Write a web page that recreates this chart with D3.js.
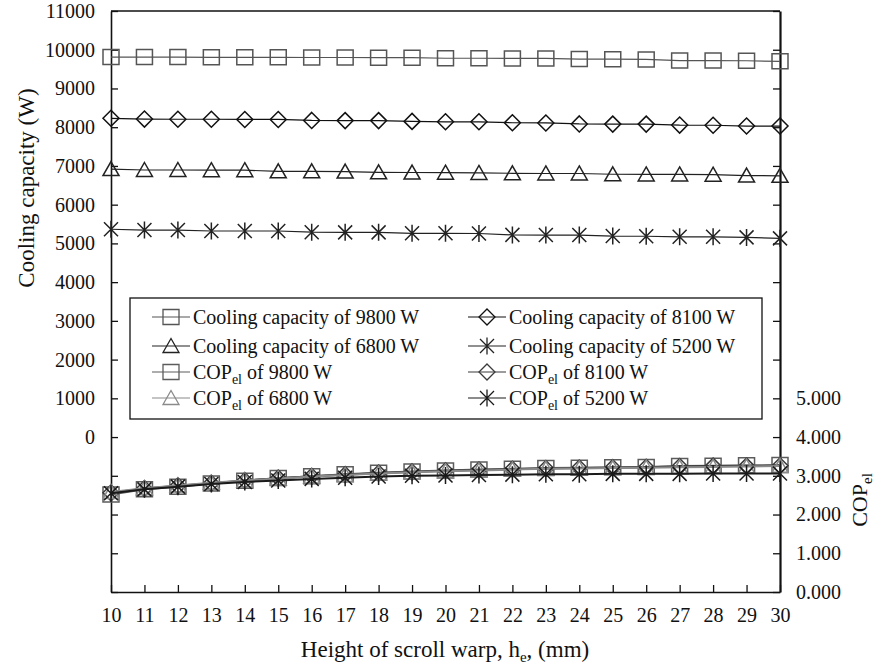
<!DOCTYPE html>
<html>
<head>
<meta charset="utf-8">
<style>
  body { margin: 0; background: #fff; }
  svg text { font-family: "Liberation Serif", "Times New Roman", serif; fill: #111; }
</style>
</head>
<body>
<div id="chart"></div>
<script src="https://cdn.jsdelivr.net/npm/d3@7"></script>
<script>

  /*
   * The Data
   */

  // scroll warp height, mm
  var heights = [10, 11, 12, 13, 14, 15, 16, 17, 18, 19, 20, 21, 22, 23, 24, 25, 26, 27, 28, 29, 30];

  // cooling capacity (W), left axis
  var capacity9800 = [9810, 9810, 9810, 9805, 9805, 9805, 9800, 9800, 9795, 9795, 9780, 9780, 9775, 9775, 9760, 9755, 9750, 9720, 9720, 9715, 9700];
  var capacity8100 = [8230, 8210, 8205, 8205, 8200, 8200, 8175, 8170, 8170, 8150, 8140, 8140, 8115, 8110, 8085, 8080, 8080, 8055, 8050, 8030, 8030];
  var capacity6800 = [6920, 6895, 6895, 6890, 6890, 6860, 6860, 6855, 6835, 6830, 6825, 6820, 6810, 6805, 6805, 6785, 6780, 6780, 6775, 6750, 6745];
  var capacity5200 = [5365, 5345, 5345, 5320, 5320, 5320, 5290, 5285, 5285, 5260, 5260, 5255, 5220, 5215, 5215, 5190, 5185, 5170, 5170, 5155, 5130];

  // COP_el, right axis
  var cop9800 = [2.52, 2.65, 2.72, 2.80, 2.87, 2.94, 2.99, 3.04, 3.08, 3.11, 3.14, 3.16, 3.18, 3.20, 3.21, 3.22, 3.23, 3.25, 3.26, 3.27, 3.28];
  var cop8100 = [2.56, 2.67, 2.74, 2.81, 2.88, 2.94, 2.99, 3.03, 3.07, 3.10, 3.13, 3.15, 3.17, 3.19, 3.20, 3.21, 3.22, 3.24, 3.25, 3.25, 3.26];
  var cop6800 = [2.58, 2.68, 2.75, 2.82, 2.88, 2.93, 2.98, 3.02, 3.06, 3.09, 3.12, 3.14, 3.16, 3.18, 3.19, 3.20, 3.21, 3.22, 3.23, 3.24, 3.25];
  var cop5200 = [2.55, 2.65, 2.72, 2.79, 2.84, 2.88, 2.92, 2.95, 2.98, 3.00, 3.01, 3.02, 3.03, 3.04, 3.04, 3.05, 3.05, 3.05, 3.06, 3.06, 3.06];

  // tick values (only some of them get a label)
  var leftTicks = [-4000, -3000, -2000, -1000, 0, 1000, 2000, 3000, 4000, 5000, 6000, 7000, 8000, 9000, 10000, 11000];
  var leftLabels = [0, 1000, 2000, 3000, 4000, 5000, 6000, 7000, 8000, 9000, 10000, 11000];
  var rightTicks = [0, 1, 2, 3, 4, 5, 6, 7, 8, 9, 10, 11, 12, 13, 14, 15];
  var rightLabels = [0, 1, 2, 3, 4, 5];

  // legend goes row by row: 9800 | 8100, 6800 | 5200
  var series = [
    { name: "Cooling capacity of 9800 W", cop: false, values: capacity9800, marker: "square",   color: "#555", width: 1.2 },
    { name: "Cooling capacity of 8100 W", cop: false, values: capacity8100, marker: "diamond",  color: "#111", width: 1.2 },
    { name: "Cooling capacity of 6800 W", cop: false, values: capacity6800, marker: "triangle", color: "#222", width: 1.2 },
    { name: "Cooling capacity of 5200 W", cop: false, values: capacity5200, marker: "star",     color: "#222", width: 1.2 },
    { name: "9800 W", cop: true, values: cop9800, marker: "square",   color: "#5c5c5c", width: 2 },
    { name: "8100 W", cop: true, values: cop8100, marker: "diamond",  color: "#3a3a3a", width: 2 },
    { name: "6800 W", cop: true, values: cop6800, marker: "triangle", color: "#8a8a8a", width: 2 },
    { name: "5200 W", cop: true, values: cop5200, marker: "star",     color: "#1a1a1a", width: 2 }
  ];

  /*
   * The Setup
   */
  var w = 874, h = 667;
  var plotLeft = 111, plotRight = 780, plotTop = 11, plotBottom = 592;

  var svg = d3.select("#chart").append("svg")
    .attr("width", w)
    .attr("height", h);

  var xScale = d3.scaleLinear().domain([10, 30]).range([plotLeft, plotRight]);
  var yLeft = d3.scaleLinear().domain([-4000, 11000]).range([plotBottom, plotTop]);
  var yRight = d3.scaleLinear().domain([0, 15]).range([plotBottom, plotTop]);

  // marker shapes, centred on 0,0
  function markerPath(type) {
    if (type == "square") return "M-8,-7.5H8V7.5H-8Z";
    if (type == "diamond") return "M0,-8L8,0L0,8L-8,0Z";
    if (type == "triangle") return "M0,-7.5L8,6.5L-8,6.5Z";
    return "M-7,-7L7,7M-7,7L7,-7M0,-8.5V8.5";
  }

  /*
   * Axes
   */
  var xAxis = d3.axisBottom(xScale).tickValues(heights)
    .tickSizeInner(-7).tickSizeOuter(0).tickPadding(16);
  var leftAxis = d3.axisLeft(yLeft).tickValues(leftTicks)
    .tickSizeInner(-7).tickSizeOuter(0).tickPadding(16)
    .tickFormat(function(d) { return leftLabels.indexOf(d) >= 0 ? d : ""; });
  var rightAxis = d3.axisRight(yRight).tickValues(rightTicks)
    .tickSizeInner(-7).tickSizeOuter(0).tickPadding(16)
    .tickFormat(function(d) { return rightLabels.indexOf(d) >= 0 ? d3.format(".3f")(d) : ""; });

  // top border
  svg.append("line")
    .attr("x1", plotLeft).attr("x2", plotRight)
    .attr("y1", plotTop).attr("y2", plotTop)
    .attr("stroke", "#111").attr("stroke-width", 1.3);

  var gx = svg.append("g")
    .attr("transform", "translate(0," + plotBottom + ")")
    .call(xAxis);
  var gl = svg.append("g")
    .attr("transform", "translate(" + plotLeft + ",0)")
    .call(leftAxis);
  var gr = svg.append("g")
    .attr("transform", "translate(" + plotRight + ",0)")
    .call(rightAxis);

  [gx, gl, gr].forEach(function(g) {
    g.selectAll("text").style("font-size", "20px").style("font-family", "Liberation Serif").attr("fill", "#111");
    g.selectAll("line").attr("stroke", "#111").attr("stroke-width", 1.3);
    g.select(".domain").attr("stroke", "#111").attr("stroke-width", 1.6);
  });
  gr.select(".domain").attr("stroke-width", 2.2);

  /*
   * The Plot Drawing Elements
   */
  series.forEach(function(s) {
    var yScale = s.cop ? yRight : yLeft;
    var line = d3.line()
      .x(function(d, i) { return xScale(heights[i]); })
      .y(function(d) { return yScale(d); });

    svg.append("path")
      .datum(s.values)
      .attr("fill", "none")
      .attr("stroke", s.color)
      .attr("stroke-width", s.width)
      .attr("d", line);

    svg.append("g").selectAll("path")
      .data(s.values)
      .enter()
      .append("path")
      .attr("transform", function(d, i) { return "translate(" + xScale(heights[i]) + "," + yScale(d) + ")"; })
      .attr("d", markerPath(s.marker))
      .attr("fill", "none")
      .attr("stroke", s.color)
      .attr("stroke-width", 1.5);
  });

  /*
   * Legend
   */
  var legend = svg.append("g");
  legend.append("rect")
    .attr("x", 130).attr("y", 298)
    .attr("width", 632).attr("height", 121)
    .attr("fill", "#fff")
    .attr("stroke", "#111").attr("stroke-width", 1.3);

  var rowY = [317, 346, 372, 398];
  var colX = [152, 468];

  series.forEach(function(s, i) {
    var cx = colX[i % 2], cy = rowY[Math.floor(i / 2)];
    legend.append("line")
      .attr("x1", cx).attr("x2", cx + 38)
      .attr("y1", cy).attr("y2", cy)
      .attr("stroke", s.color).attr("stroke-width", 1.2);
    legend.append("path")
      .attr("transform", "translate(" + (cx + 19) + "," + cy + ")")
      .attr("d", markerPath(s.marker))
      .attr("fill", "none")
      .attr("stroke", s.color)
      .attr("stroke-width", 1.3);
    var t = legend.append("text")
      .attr("x", cx + 41).attr("y", cy + 7)
      .style("font-size", "20px");
    if (s.cop) {
      t.append("tspan").text("COP");
      t.append("tspan").attr("dy", 5).style("font-size", "14px").text("el");
      t.append("tspan").attr("dy", -5).text(" of " + s.name);
    } else {
      t.text(s.name);
    }
  });

  /*
   * Axis Labels
   */
  var xt = svg.append("text")
    .attr("x", 445).attr("y", 657)
    .style("text-anchor", "middle")
    .style("font-size", "23px");
  xt.append("tspan").text("Height of scroll warp, h");
  xt.append("tspan").attr("dy", 5).style("font-size", "15px").text("e");
  xt.append("tspan").attr("dy", -5).text(", (mm)");

  svg.append("text")
    .attr("transform", "translate(34,188) rotate(-90)")
    .style("text-anchor", "middle")
    .style("font-size", "23px")
    .text("Cooling capacity (W)");

  var yt = svg.append("text")
    .attr("transform", "translate(867,500) rotate(-90)")
    .style("text-anchor", "middle")
    .style("font-size", "22px");
  yt.append("tspan").text("COP");
  yt.append("tspan").attr("dy", 5).style("font-size", "15px").text("el");

</script>
</body>
</html>
